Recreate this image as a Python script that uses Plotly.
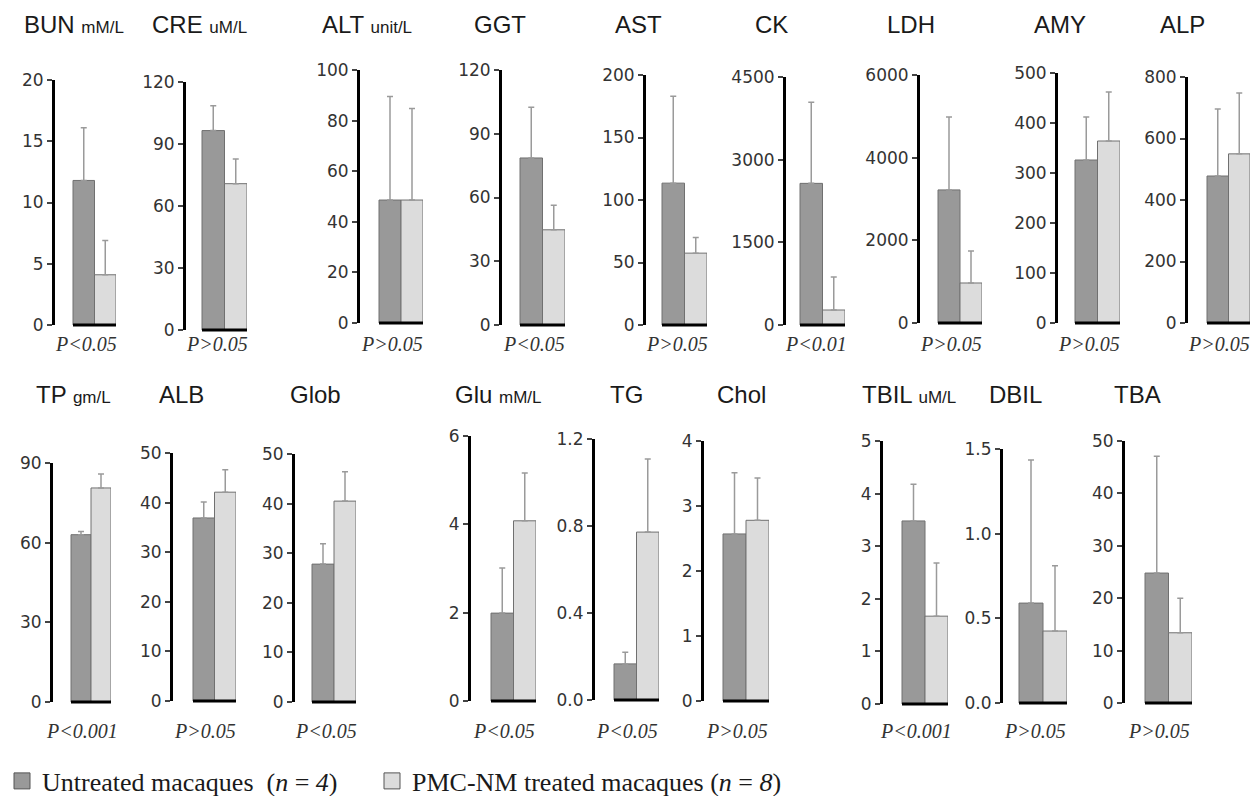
import plotly.graph_objects as go

# ---------------- data ----------------
tests = ["BUN", "CRE", "ALT", "GGT", "AST", "CK", "LDH", "AMY", "ALP",
         "TP", "ALB", "Glob", "Glu", "TG", "Chol", "TBIL", "DBIL", "TBA"]
units = ["mM/L", "uM/L", "unit/L", "", "", "", "", "", "",
         "gm/L", "", "", "mM/L", "", "", "uM/L", "", ""]
untreated_mean = [11.8, 96.5, 48.6, 78.6, 113.5, 2570, 3220, 326, 478,
                  63.0, 36.9, 27.8, 1.99, 0.166, 2.57, 3.48, 0.59, 24.8]
untreated_sd = [4.3, 12.0, 40.9, 23.9, 69.5, 1470, 1764, 86, 218,
                1.2, 3.2, 4.1, 1.02, 0.054, 0.94, 0.70, 0.845, 22.3]
treated_mean = [4.1, 70.8, 48.6, 44.8, 57.5, 272, 968, 364, 550,
                80.6, 42.1, 40.5, 4.08, 0.772, 2.78, 1.67, 0.425, 13.4]
treated_sd = [2.8, 12.0, 36.2, 11.5, 12.5, 598, 774, 98, 198,
              5.3, 4.5, 5.9, 1.08, 0.336, 0.65, 1.01, 0.385, 6.6]
p_values = ["P<0.05", "P>0.05", "P>0.05", "P<0.05", "P>0.05", "P<0.01", "P>0.05", "P>0.05", "P>0.05",
            "P<0.001", "P>0.05", "P<0.05", "P<0.05", "P<0.05", "P>0.05", "P<0.001", "P>0.05", "P>0.05"]
y_ticks = [
    [0, 5, 10, 15, 20], [0, 30, 60, 90, 120], [0, 20, 40, 60, 80, 100], [0, 30, 60, 90, 120],
    [0, 50, 100, 150, 200], [0, 1500, 3000, 4500], [0, 2000, 4000, 6000], [0, 100, 200, 300, 400, 500],
    [0, 200, 400, 600, 800],
    [0, 30, 60, 90], [0, 10, 20, 30, 40, 50], [0, 10, 20, 30, 40, 50], [0, 2, 4, 6],
    [0.0, 0.4, 0.8, 1.2], [0, 1, 2, 3, 4], [0, 1, 2, 3, 4, 5], [0.0, 0.5, 1.0, 1.5], [0, 10, 20, 30, 40, 50],
]
tick_formats = ["", "", "", "", "", "", "", "", "",
                "", "", "", "", ".1f", "", "", ".1f", ""]
group_names = ["Untreated macaques  (<i>n</i> = <i>4</i>)",
               "PMC-NM treated macaques (<i>n</i> = <i>8</i>)"]

# ---------------- layout geometry (pixels) ----------------
W, H = 1255, 796
# axis_x, bar_left, bar_right, y_top, y_zero
geom = [
    (55, 73, 116, 80, 325), (186, 202, 247, 82, 330), (360, 379, 423, 70, 323),
    (502, 520, 565, 70, 325), (646, 662, 707, 75, 325), (786, 800, 845, 77, 325),
    (920, 938, 982, 75, 323), (1058, 1075, 1120, 73, 323), (1188, 1207, 1250, 77, 323),
    (53, 71, 111, 463, 702), (173, 193, 236, 453, 701), (295, 312, 356, 454, 702),
    (471, 491, 536, 436, 701), (595, 614, 659, 439, 700), (704, 723, 769, 441, 701),
    (883, 902, 948, 441, 704), (1003, 1019, 1067, 449, 703), (1125, 1145, 1192, 441, 703),
]
title_left = [22, 150, 320, 472, 613, 753, 885, 1032, 1158,
              34, 157, 288, 453, 608, 715, 860, 987, 1112]
title_y = [24] * 9 + [394] * 9
p_y = [344] * 9 + [731] * 9
legend_x = [2, 372]

DARK = "#999999"
LIGHT = "#dcdcdc"
EDGE = "#707070"
ERR = "#9a9a9a"
COLS = [DARK, LIGHT]

fig = go.Figure()
layout = {}
annotations = []
shapes = []

for i, name in enumerate(tests):
    k = "" if i == 0 else str(i + 1)
    ax, bl, br, yt, yz = geom[i]
    barw = (br - bl) / 2.0
    x_start = -0.5 - (bl - ax) / barw
    ymax = y_ticks[i][-1]

    for j, (mean, sd) in enumerate([(untreated_mean[i], untreated_sd[i]),
                                    (treated_mean[i], treated_sd[i])]):
        fig.add_trace(go.Bar(
            x=[j], y=[mean], width=1,
            marker=dict(color=COLS[j], line=dict(color=EDGE, width=1)),
            error_y=dict(type="data", array=[sd], arrayminus=[0], symmetric=False,
                         color=ERR, thickness=1.5, width=3),
            name=group_names[j], legendgroup=str(j), showlegend=False,
            xaxis="x" + k, yaxis="y" + k,
        ))

    layout["xaxis" + k] = dict(domain=[ax / W, br / W], range=[x_start, 1.5],
                               anchor="y" + k, visible=False, fixedrange=True, automargin=False)
    layout["yaxis" + k] = dict(domain=[1 - yz / H, 1 - yt / H], range=[0, ymax],
                               anchor="x" + k, showline=True, linecolor="black", linewidth=3,
                               ticks="outside", ticklen=5, tickwidth=1.5, tickcolor="#444444",
                               tickvals=y_ticks[i], tickformat=tick_formats[i],
                               tickfont=dict(family="DejaVu Sans", size=17, color="#333333"),
                               showgrid=False, zeroline=False, fixedrange=True, automargin=False)

    # thick black baseline under the two bars
    shapes.append(dict(type="line", xref="x" + k + " domain", yref="paper",
                       x0=(bl - ax) / (br - ax), x1=1, y0=1 - yz / H, y1=1 - yz / H,
                       line=dict(color="black", width=3)))

    t = name
    if units[i]:
        t += " <span style='font-size:17px'>" + units[i] + "</span>"
    annotations.append(dict(text=t, xref="paper", yref="paper", x=title_left[i] / W,
                            y=1 - title_y[i] / H, xanchor="left", yanchor="middle",
                            showarrow=False, font=dict(family="Liberation Sans", size=24, color="#1a1a1a")))
    annotations.append(dict(text="<i>" + p_values[i].replace("<", "&lt;").replace(">", "&gt;") + "</i>",
                            xref="x" + k + " domain", yref="paper", x=0.5, y=1 - p_y[i] / H,
                            xanchor="center", yanchor="middle", showarrow=False,
                            font=dict(family="Liberation Serif", size=20, color="#333333")))

# legend entries (square swatches in the two bar colours), one legend each
legend_layout = {}
for j in range(2):
    lg = "legend" if j == 0 else "legend2"
    fig.add_trace(go.Scatter(
        x=[None], y=[None], mode="markers", name=group_names[j], legendgroup=str(j),
        marker=dict(symbol="square", size=20, color=COLS[j], line=dict(color="#555555", width=1)),
        showlegend=True, hoverinfo="skip", legend=lg,
    ))
    legend_layout[lg] = dict(orientation="h", x=legend_x[j] / W, y=1 - 781 / H,
                             xanchor="left", yanchor="middle",
                             font=dict(family="Liberation Serif", size=26, color="#1a1a1a"),
                             itemsizing="trace", bgcolor="rgba(0,0,0,0)")

fig.update_layout(
    width=W, height=H, margin=dict(l=0, r=0, t=0, b=0, autoexpand=False),
    plot_bgcolor="white", paper_bgcolor="white", barmode="overlay",
    annotations=annotations, shapes=shapes,
    **legend_layout,
    **layout,
)

fig.write_html("out.html", config={"displayModeBar": False},
               post_script="document.body.style.margin='0';")
